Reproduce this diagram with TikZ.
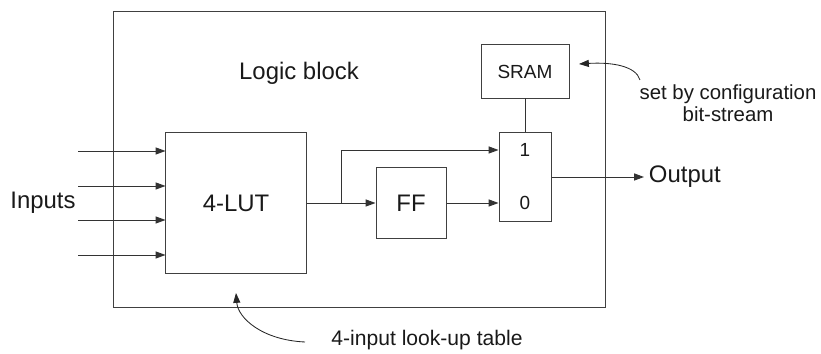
\documentclass[tikz,border=0pt]{standalone}
\usepackage{fontspec}
\setmainfont{Liberation Sans}
\usepackage{tikz}
\usetikzlibrary{arrows.meta}

\tikzset{
  blk/.style={draw=black!75, line width=0.7pt, inner sep=0pt},
  wire/.style={draw=black!80, line width=0.7pt},
  sig/.style={wire, -{Triangle[length=7pt,width=5pt]}},
  note/.style={black!85, -{Triangle[length=7pt,width=5pt]}, line width=0.6pt},
  big/.style={font=\fontsize{17}{20}\selectfont, text=black!90},
  small/.style={font=\fontsize{13.5}{15.5}\selectfont, text=black!90},
  label/.style={font=\fontsize{14.5}{16}\selectfont, text=black!90},
}

\begin{document}
\begin{tikzpicture}[x=0.025cm, y=0.025cm]
\useasboundingbox (0,0) rectangle (821,354);

\node[blk, minimum width=12.275cm, minimum height=7.375cm] (block) at (359.5,194.5) {};
\node[big] (title) at (299,281) {Logic block};

\node[blk, big, minimum width=3.5cm, minimum height=3.5cm] (lut) at (236,151) {4-LUT};
\node[blk, big, minimum width=1.75cm, minimum height=1.75cm] (ff) at (411,151) {FF};
\node[blk, minimum width=1.3cm, minimum height=2.2cm] (mux) at (525,177) {};
\node[small] (m1) at (525,204) {1};
\node[small] (m0) at (525,151) {0};
\node[blk, small, minimum width=2.2cm, minimum height=1.325cm] (sram) at (525,282.5) {SRAM};

\node[big] (inputs) at (43,151) {Inputs};
\node[big, anchor=west] (out) at (644,177) {Output};
\node[label, align=center] (cfg) at (728,251) {set by configuration\\bit-stream};
\node[label, font=\fontsize{15}{17}\selectfont] (table) at (427,14) {4-input look-up table};

\foreach \i/\y in {1/203,2/168,3/134,4/99} {
  \coordinate (in\i) at (78,\y);
  \draw[sig] (in\i) -- (lut.west |- in\i);
}

\coordinate (br) at (341,151);
\draw[sig] (lut) -- (ff);
\draw[sig] (br) |- (mux.west |- m1);
\draw[sig] (ff) -- (mux.west |- m0);
\draw[wire] (sram) -- (mux);
\draw[sig] (mux) -- (out);

\coordinate (cfgfoot) at (640,274);
\coordinate (cfgtip) at (579,290);
\coordinate (tabfoot) at (305,12);
\coordinate (luttip) at (236,61);
\draw[note] (cfgfoot) .. controls (636,288) and (612,292) .. (cfgtip);
\draw[note] (tabfoot) .. controls (262,14) and (238,36) .. (luttip);
\end{tikzpicture}
\end{document}
